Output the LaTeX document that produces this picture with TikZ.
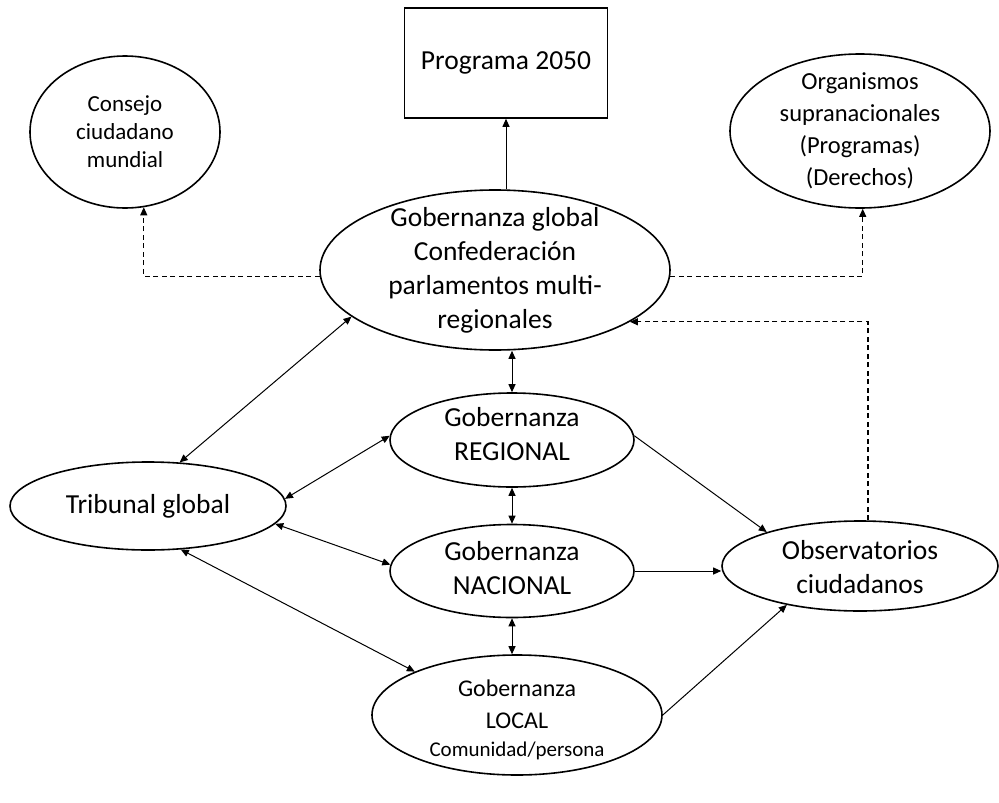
\documentclass[tikz,border=0pt]{standalone}
\usepackage{fontspec}
\setmainfont{Carlito}
\usetikzlibrary{shapes.geometric,arrows.meta}
\tikzset{
  ell/.style={draw, ellipse, line width=1.6pt, inner sep=0pt},
  txt/.style={align=center, inner sep=0pt},
  big/.style={font=\fontsize{27.5}{34}\selectfont},
  mid/.style={font=\fontsize{24.5}{32}\selectfont},
  conn/.style={line width=1pt, -{Triangle[length=8pt,width=7pt]}},
  bconn/.style={line width=1pt, {Triangle[length=8pt,width=7pt]}-{Triangle[length=8pt,width=7pt]}},
  dconn/.style={line width=1.1pt, dash pattern=on 5pt off 3.5pt, -{Triangle[length=8pt,width=7pt]}}
}
\begin{document}
\begin{tikzpicture}[x=1pt,y=-1pt]
\useasboundingbox (0,0) rectangle (999,803);
% box
\node[draw, line width=1.6pt, minimum width=203pt, minimum height=110pt, inner sep=0pt, big] (prog) at (506,63) {Programa 2050};
% ellipses
\node[ell, minimum width=190pt, minimum height=152pt] (cons) at (125,132) {};
\node[txt, font=\fontsize{23}{28}\selectfont] (consT) at (cons) {Consejo\\ciudadano\\mundial};
\node[ell, minimum width=260pt, minimum height=154pt] (org) at (860,131) {};
\node[txt, mid] (orgT) at (org.center) {Organismos\\supranacionales\\(Programas)\\(Derechos)};
\node[ell, minimum width=350pt, minimum height=160pt] (gg) at (495,270) {};
\node[txt, big] (ggT) at (gg) {Gobernanza global\\Confederación\\parlamentos multi-\\regionales};
\node[ell, minimum width=276pt, minimum height=88pt] (trib) at (148,506) {};
\node[txt, big] (tribT) at (trib) {Tribunal global};
\node[ell, minimum width=244pt, minimum height=94pt] (reg) at (512,440) {};
\node[txt, big] (regT) at ([yshift=6pt]reg.center) {Gobernanza\\REGIONAL};
\node[ell, minimum width=244pt, minimum height=93pt] (nac) at (512,571) {};
\node[txt, big] (nacT) at ([yshift=3pt]nac.center) {Gobernanza\\NACIONAL};
\node[ell, minimum width=290pt, minimum height=120pt] (loc) at (517,715) {};
\node[txt, font=\fontsize{24}{32}\selectfont] (locT) at ([yshift=-5pt]loc.center) {Gobernanza\\LOCAL\\[-4pt]{\fontsize{21}{26}\selectfont Comunidad/persona}};
\node[ell, minimum width=276pt, minimum height=90pt] (obs) at (860,566) {};
\node[txt, big] (obsT) at ([yshift=-1pt]obs.center) {Observatorios\\ciudadanos};
% connectors
\draw[conn] (prog.south |- gg.north) -- (prog.south);
\draw[dconn] (gg.182.6) -| (cons.-76.7);
\draw[dconn] (gg.-2.6) -| (org.-88.5);
\draw[dconn] ([xshift=8pt]obs.north) |- (gg.-21.4);
\draw[bconn] (reg.north |- gg.south) -- (reg.north);
\draw[bconn] (reg.south) -- (nac.north);
\draw[bconn] (nac.south) -- (nac.south |- loc.north);
\draw[bconn] (gg.198) -- (trib.54);
\draw[bconn] (reg.178) -- (trib.3);
\draw[bconn] (trib.-8) -- (nac.177);
\draw[bconn] (trib.-53) -- (loc.157.3);
\draw[conn] (reg.2) -- (obs.160);
\draw[conn] (nac.east) -- (nac.east -| obs.west);
\draw[conn] (loc.east) -- (obs.208);
\end{tikzpicture}
\end{document}
